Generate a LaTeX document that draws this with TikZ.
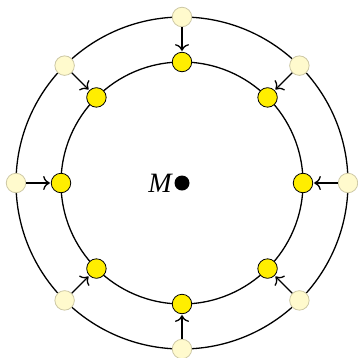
\documentclass[tikz,border=0pt]{standalone}
\usepackage{fontspec}
\setmainfont{Liberation Serif}
\usepackage{tikz}
\usetikzlibrary{arrows.meta}
\definecolor{paleyellow}{RGB}{255,250,205}
\definecolor{paleedge}{RGB}{205,200,165}
\definecolor{bright}{RGB}{255,238,0}
\begin{document}
\begin{tikzpicture}[x=1pt, y=1pt, line width=1.3pt,
        outer/.style={circle, draw=paleedge, fill=paleyellow, line width=0.8pt, minimum size=19.5pt, inner sep=0pt},
        inner/.style={circle, draw=black, fill=bright, line width=0.8pt, minimum size=19.5pt, inner sep=0pt},
        push/.style={-{To[scale=1.5]}, shorten >=1pt}]
        \useasboundingbox (-182,-174) rectangle (176,183);
        % Circles
        \draw (0,0) circle (166);
        \draw (0,0) circle (121);
        
        % Centre
        \node[circle, fill=black, minimum size=15pt, inner sep=0pt] (C) at (0,0) {};
        \node[anchor=east, inner sep=1.5pt] (M) at (C.west) {\fontsize{28}{30}\selectfont\itshape M};
        
        % Outer nodes
        \node[outer] (O1) at (90:166) {};
        \node[outer] (O2) at (45:166) {};
        \node[outer] (O3) at (0:166) {};
        \node[outer] (O4) at (-45:166) {};
        \node[outer] (O5) at (-90:166) {};
        \node[outer] (O6) at (-135:166) {};
        \node[outer] (O7) at (180:166) {};
        \node[outer] (O8) at (135:166) {};
        
        % Inner nodes
        \node[inner] (I1) at (90:121) {};
        \node[inner] (I2) at (45:121) {};
        \node[inner] (I3) at (0:121) {};
        \node[inner] (I4) at (-45:121) {};
        \node[inner] (I5) at (-90:121) {};
        \node[inner] (I6) at (-135:121) {};
        \node[inner] (I7) at (180:121) {};
        \node[inner] (I8) at (135:121) {};
        
        % Edges
        \draw[push] (O1) -- (I1);
        \draw[push] (O2) -- (I2);
        \draw[push] (O3) -- (I3);
        \draw[push] (O4) -- (I4);
        \draw[push] (O5) -- (I5);
        \draw[push] (O6) -- (I6);
        \draw[push] (O7) -- (I7);
        \draw[push] (O8) -- (I8);
    \end{tikzpicture}
\end{document}
